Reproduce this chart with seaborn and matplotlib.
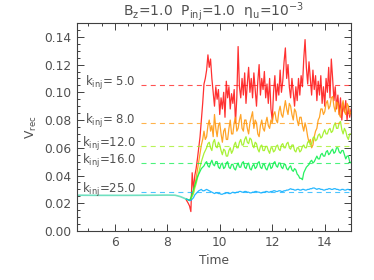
import numpy as np
import pandas as pd
import matplotlib
matplotlib.use("Agg")
import matplotlib.pyplot as plt
import seaborn as sns
from matplotlib.ticker import MultipleLocator

# shared pre-injection segment (all runs identical)
t_early = [4.5, 5.5, 6.5, 7.5, 8.0, 8.3, 8.5, 8.7]
v_early = [0.0258, 0.0257, 0.0257, 0.0258, 0.0259, 0.0258, 0.0248, 0.0232]

k_labels = ["k$_{inj}$= 5.0", "k$_{inj}$= 8.0", "k$_{inj}$=12.0", "k$_{inj}$=16.0", "k$_{inj}$=25.0"]
mean_levels = [0.105, 0.078, 0.061, 0.049, 0.028]
colors = ["#ff1a1a", "#ff9a10", "#a0f020", "#10f050", "#10b0ff"]

# main segment sampled every 0.05 from t = 8.80 to 15.00
v_k5 = [0.020, 0.018, 0.014, 0.042, 0.030, 0.040, 0.045, 0.052, 0.060, 0.068,
        0.080, 0.092, 0.106, 0.110, 0.116, 0.127, 0.118, 0.124, 0.110, 0.100,
        0.090, 0.104, 0.095, 0.102, 0.084, 0.096, 0.088, 0.100, 0.082, 0.108,
        0.096, 0.104, 0.088, 0.099, 0.092, 0.102, 0.078, 0.096, 0.133, 0.104,
        0.096, 0.110, 0.098, 0.114, 0.092, 0.106, 0.118, 0.100, 0.110, 0.096,
        0.114, 0.102, 0.090, 0.108, 0.120, 0.098, 0.110, 0.102, 0.115, 0.096,
        0.106, 0.092, 0.110, 0.088, 0.080, 0.100, 0.112, 0.094, 0.106, 0.098,
        0.116, 0.100, 0.108, 0.122, 0.132, 0.110, 0.120, 0.104, 0.096, 0.110,
        0.100, 0.090, 0.104, 0.094, 0.110, 0.098, 0.112, 0.104, 0.124, 0.138,
        0.118, 0.106, 0.122, 0.110, 0.098, 0.116, 0.102, 0.112, 0.094, 0.108,
        0.098, 0.112, 0.092, 0.104, 0.090, 0.110, 0.100, 0.118, 0.096, 0.124,
        0.110, 0.094, 0.104, 0.088, 0.098, 0.084, 0.096, 0.080, 0.092, 0.086,
        0.094, 0.080, 0.090, 0.082, 0.088]
v_k8 = [0.0225, 0.022, 0.023, 0.026, 0.028, 0.033, 0.038, 0.044, 0.050, 0.056,
        0.062, 0.066, 0.072, 0.066, 0.068, 0.076, 0.080, 0.072, 0.076, 0.068,
        0.084, 0.074, 0.068, 0.076, 0.078, 0.070, 0.064, 0.072, 0.074, 0.066,
        0.066, 0.074, 0.080, 0.070, 0.070, 0.078, 0.082, 0.072, 0.074, 0.080,
        0.084, 0.074, 0.072, 0.080, 0.080, 0.074, 0.070, 0.078, 0.082, 0.086,
        0.074, 0.080, 0.078, 0.070, 0.068, 0.076, 0.080, 0.074, 0.072, 0.078,
        0.082, 0.076, 0.074, 0.080, 0.078, 0.084, 0.086, 0.080, 0.078, 0.086,
        0.090, 0.084, 0.082, 0.088, 0.094, 0.088, 0.084, 0.092, 0.090, 0.084,
        0.080, 0.088, 0.086, 0.080, 0.076, 0.082, 0.082, 0.076, 0.072, 0.078,
        0.074, 0.068, 0.064, 0.066, 0.060, 0.062, 0.068, 0.072, 0.074, 0.080,
        0.082, 0.088, 0.088, 0.084, 0.086, 0.092, 0.094, 0.088, 0.090, 0.096,
        0.097, 0.090, 0.086, 0.093, 0.092, 0.084, 0.082, 0.090, 0.094, 0.086,
        0.084, 0.092, 0.090, 0.084, 0.086]
v_k12 = [0.0225, 0.022, 0.023, 0.025, 0.027, 0.031, 0.034, 0.038, 0.042, 0.046,
         0.050, 0.053, 0.056, 0.058, 0.060, 0.063, 0.064, 0.060, 0.058, 0.064,
         0.066, 0.061, 0.060, 0.064, 0.062, 0.058, 0.055, 0.059, 0.058, 0.054,
         0.054, 0.058, 0.060, 0.056, 0.058, 0.062, 0.064, 0.060, 0.060, 0.064,
         0.066, 0.062, 0.062, 0.066, 0.068, 0.064, 0.063, 0.067, 0.066, 0.062,
         0.060, 0.064, 0.063, 0.059, 0.057, 0.061, 0.062, 0.058, 0.058, 0.061,
         0.061, 0.058, 0.056, 0.060, 0.060, 0.057, 0.058, 0.061, 0.062, 0.059,
         0.058, 0.062, 0.063, 0.060, 0.060, 0.063, 0.064, 0.060, 0.059, 0.062,
         0.062, 0.058, 0.057, 0.060, 0.060, 0.057, 0.058, 0.061, 0.062, 0.060,
         0.060, 0.064, 0.065, 0.062, 0.063, 0.067, 0.068, 0.065, 0.066, 0.069,
         0.070, 0.067, 0.068, 0.071, 0.073, 0.070, 0.070, 0.073, 0.074, 0.071,
         0.072, 0.076, 0.078, 0.074, 0.074, 0.078, 0.079, 0.073, 0.070, 0.074,
         0.072, 0.068, 0.066, 0.070, 0.070]
v_k16 = [0.0225, 0.022, 0.024, 0.027, 0.030, 0.033, 0.036, 0.039, 0.041, 0.043,
         0.045, 0.046, 0.047, 0.049, 0.050, 0.047, 0.046, 0.049, 0.051, 0.048,
         0.047, 0.050, 0.050, 0.046, 0.045, 0.048, 0.049, 0.045, 0.046, 0.049,
         0.050, 0.046, 0.045, 0.048, 0.048, 0.045, 0.044, 0.047, 0.049, 0.046,
         0.046, 0.049, 0.050, 0.046, 0.045, 0.048, 0.049, 0.045, 0.044, 0.047,
         0.048, 0.045, 0.046, 0.049, 0.050, 0.046, 0.045, 0.048, 0.048, 0.045,
         0.044, 0.047, 0.049, 0.045, 0.046, 0.049, 0.050, 0.047, 0.046, 0.049,
         0.049, 0.046, 0.045, 0.048, 0.048, 0.045, 0.044, 0.046, 0.047, 0.044,
         0.043, 0.045, 0.044, 0.041, 0.040, 0.038, 0.038, 0.037, 0.042, 0.044,
         0.046, 0.047, 0.048, 0.050, 0.051, 0.049, 0.050, 0.052, 0.054, 0.052,
         0.052, 0.055, 0.056, 0.054, 0.054, 0.057, 0.058, 0.055, 0.056, 0.058,
         0.059, 0.056, 0.057, 0.060, 0.060, 0.057, 0.056, 0.058, 0.058, 0.055,
         0.052, 0.054, 0.054, 0.050, 0.049]
v_k25 = [0.0225, 0.022, 0.022, 0.023, 0.024, 0.026, 0.027, 0.028, 0.029, 0.0295,
         0.030, 0.029, 0.029, 0.0295, 0.030, 0.0295, 0.029, 0.0285, 0.028, 0.0275,
         0.027, 0.0275, 0.0275, 0.027, 0.027, 0.0265, 0.0265, 0.027, 0.027, 0.0275,
         0.0275, 0.027, 0.027, 0.0275, 0.028, 0.0275, 0.0275, 0.028, 0.028, 0.0285,
         0.0285, 0.028, 0.028, 0.0285, 0.0285, 0.028, 0.028, 0.0275, 0.0275, 0.028,
         0.028, 0.0285, 0.0285, 0.028, 0.028, 0.0275, 0.0275, 0.028, 0.028, 0.0285,
         0.0285, 0.028, 0.028, 0.0285, 0.0285, 0.029, 0.029, 0.0285, 0.0285, 0.029,
         0.029, 0.0285, 0.0285, 0.029, 0.029, 0.0295, 0.0295, 0.030, 0.0305, 0.030,
         0.030, 0.0295, 0.0295, 0.030, 0.030, 0.0295, 0.0295, 0.030, 0.030, 0.0295,
         0.0295, 0.030, 0.030, 0.0305, 0.0305, 0.031, 0.031, 0.0305, 0.030, 0.0305,
         0.0305, 0.030, 0.030, 0.0295, 0.0295, 0.030, 0.030, 0.0305, 0.0305, 0.030,
         0.030, 0.0305, 0.0305, 0.030, 0.030, 0.0295, 0.0295, 0.030, 0.030, 0.0295,
         0.0295, 0.030, 0.030, 0.0295, 0.0295]
series = [v_k5, v_k8, v_k12, v_k16, v_k25]
t_main = np.round(8.8 + 0.05 * np.arange(len(v_k5)), 2)

sns.set_style("ticks")
plt.rcParams["font.family"] = ["DejaVu Sans"]
plt.rcParams["mathtext.default"] = "regular"
txt = "#505050"

fig = plt.figure(figsize=(3.74, 2.80), dpi=100)
ax = fig.add_axes([0.205, 0.175, 0.7335, 0.743])

for vals, col in zip(series, colors):
    df = pd.DataFrame({"t": np.concatenate([t_early[-1:], t_main]),
                       "v": np.concatenate([v_early[-1:], vals])})
    sns.lineplot(data=df, x="t", y="v", ax=ax, color=col, lw=0.9,
                 estimator=None, sort=False, alpha=0.9)

df0 = pd.DataFrame({"t": t_early, "v": v_early})
sns.lineplot(data=df0, x="t", y="v", ax=ax, color="#70e0c0", lw=1.2, estimator=None)

for lab, lev, col in zip(k_labels, mean_levels, colors):
    ax.plot([7.0, 15.0], [lev, lev], ls=(0, (4.5, 3.8)), color=col, lw=0.8, alpha=0.75)
    ax.text(6.8, lev + 0.0015, lab, ha="right", va="center", fontsize=8.5, color=txt)

ax.set_xlim(4.55, 15.0)
ax.set_ylim(0, 0.15)
ax.xaxis.set_major_locator(MultipleLocator(2))
ax.xaxis.set_minor_locator(MultipleLocator(0.5))
ax.yaxis.set_minor_locator(MultipleLocator(0.005))
ax.set_yticks(np.arange(0, 0.141, 0.02))
ax.set_yticklabels([f"{v:.2f}" for v in np.arange(0, 0.141, 0.02)])
ax.tick_params(which="both", direction="in", top=True, right=True, colors="#404040",
               labelcolor=txt, labelsize=8.8, width=0.7)
ax.tick_params(which="major", length=5)
ax.tick_params(which="minor", length=2.5)
for s in ax.spines.values():
    s.set_color("#404040")
    s.set_linewidth(0.8)

ax.set_xlabel("Time", fontsize=8.8, color=txt, labelpad=4)
ax.set_ylabel("V$_{rec}$", fontsize=8.8, color=txt, labelpad=4)
ax.set_title("B$_z$=1.0  P$_{inj}$=1.0  $\\eta_u$=10$^{-3}$", fontsize=10, color=txt, pad=3)

fig.savefig("out.png", dpi=100)
